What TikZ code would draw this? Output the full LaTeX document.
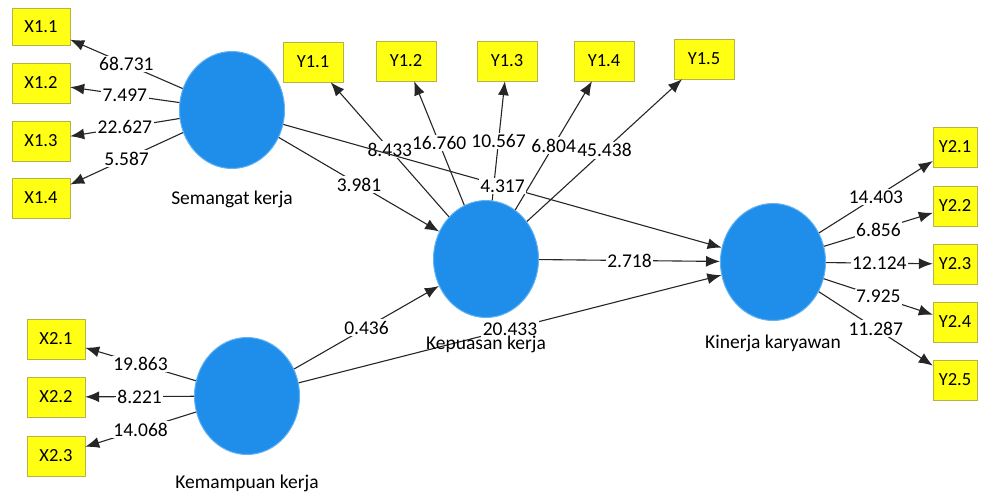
\documentclass[tikz,border=0pt]{standalone}
\usepackage{fontspec}
\setmainfont{Carlito}
\usetikzlibrary{arrows.meta, positioning, shapes.geometric}
\definecolor{lvblue}{HTML}{1E8EEA}
\definecolor{lvblueborder}{HTML}{62B2F2}
\definecolor{mvyellow}{HTML}{FFFF14}
\definecolor{mvyellowborder}{HTML}{B9B347}

\begin{document}
\begin{tikzpicture}[x=1pt, y=-1pt,
    latent/.style={ellipse, fill=lvblue, draw=lvblueborder, line width=1pt,
      minimum width=105pt, minimum height=117pt, inner sep=0pt},
    indicator/.style={rectangle, fill=mvyellow, draw=mvyellowborder,
      minimum width=58pt, minimum height=40pt, inner sep=0pt,
      font=\fontsize{18.5}{20}\selectfont},
    weight/.style={fill=white, inner sep=1.5pt, font=\fontsize{19.5}{20}\selectfont},
    lvname/.style={inner sep=0pt, font=\fontsize{19.5}{22}\selectfont},
    link/.style={-{Latex[length=14pt,width=11pt]}, line width=1.1pt, draw=black!85},
    >=Latex
  ]
  \useasboundingbox (0,0) rectangle (983,495);

  % latent variables
  \node[latent] (semangat) at (232,110) {};
  \node[latent] (kepuasan) at (486,259) {};
  \node[latent] (kinerja) at (773,262) {};
  \node[latent] (kemampuan) at (247,396) {};

  % indicators
  \node[indicator, minimum height=37pt] (x11) at (41,27) {X1.1};
  \node[indicator] (x12) at (41,83) {X1.2};
  \node[indicator] (x13) at (41,141) {X1.3};
  \node[indicator] (x14) at (41,198) {X1.4};
  \node[indicator, minimum width=60pt] (y11) at (313,62) {Y1.1};
  \node[indicator, minimum width=60pt] (y12) at (406,61) {Y1.2};
  \node[indicator, minimum width=60pt] (y13) at (507,61) {Y1.3};
  \node[indicator, minimum width=60pt] (y14) at (604,61) {Y1.4};
  \node[indicator, minimum width=60pt] (y15) at (704,59) {Y1.5};
  \node[indicator, minimum width=44pt] (y21) at (955,147) {Y2.1};
  \node[indicator, minimum width=44pt] (y22) at (955,206) {Y2.2};
  \node[indicator, minimum width=44pt] (y23) at (955,264) {Y2.3};
  \node[indicator, minimum width=44pt] (y24) at (955,322) {Y2.4};
  \node[indicator, minimum width=44pt] (y25) at (955,380) {Y2.5};
  \node[indicator] (x21) at (56,339) {X2.1};
  \node[indicator] (x22) at (56,397) {X2.2};
  \node[indicator] (x23) at (56,456) {X2.3};

  % outer loadings
  \draw[link] (semangat) -- node[weight] {68.731} (x11);
  \draw[link] (semangat) -- node[weight] {7.497} (x12);
  \draw[link] (semangat) -- node[weight] {22.627} (x13);
  \draw[link] (semangat) -- node[weight] {5.587} (x14);
  \draw[link] (kepuasan) -- node[weight] {8.433} (y11);
  \draw[link] (kepuasan) -- node[weight] {16.760} (y12);
  \draw[link] (kepuasan) -- node[weight] {10.567} (y13);
  \draw[link] (kepuasan) -- node[weight] {6.804} (y14);
  \draw[link] (kepuasan) -- node[weight] {45.438} (y15);
  \draw[link] (kinerja) -- node[weight] {14.403} (y21);
  \draw[link] (kinerja) -- node[weight] {6.856} (y22);
  \draw[link] (kinerja) -- node[weight] {12.124} (y23);
  \draw[link] (kinerja) -- node[weight] {7.925} (y24);
  \draw[link] (kinerja) -- node[weight] {11.287} (y25);
  \draw[link] (kemampuan) -- node[weight] {19.863} (x21);
  \draw[link] (kemampuan) -- node[weight] {8.221} (x22);
  \draw[link] (kemampuan) -- node[weight] {14.068} (x23);

  % inner paths
  \draw[link] (semangat) -- node[weight] {3.981} (kepuasan);
  \draw[link] (semangat) -- node[weight] {4.317} (kinerja);
  \draw[link] (kepuasan) -- node[weight] {2.718} (kinerja);
  \draw[link] (kemampuan) -- node[weight] {0.436} (kepuasan);
  \draw[link] (kemampuan) -- node[weight] {20.433} (kinerja);

  % names
  \node[lvname, below=22pt of semangat] (semangat-name) {Semangat kerja};
  \node[lvname, below=18pt of kepuasan] (kepuasan-name) {Kepuasan kerja};
  \node[lvname, below=14pt of kinerja] (kinerja-name) {Kinerja karyawan};
  \node[lvname, below=20pt of kemampuan] (kemampuan-name) {Kemampuan kerja};
\end{tikzpicture}
\end{document}
